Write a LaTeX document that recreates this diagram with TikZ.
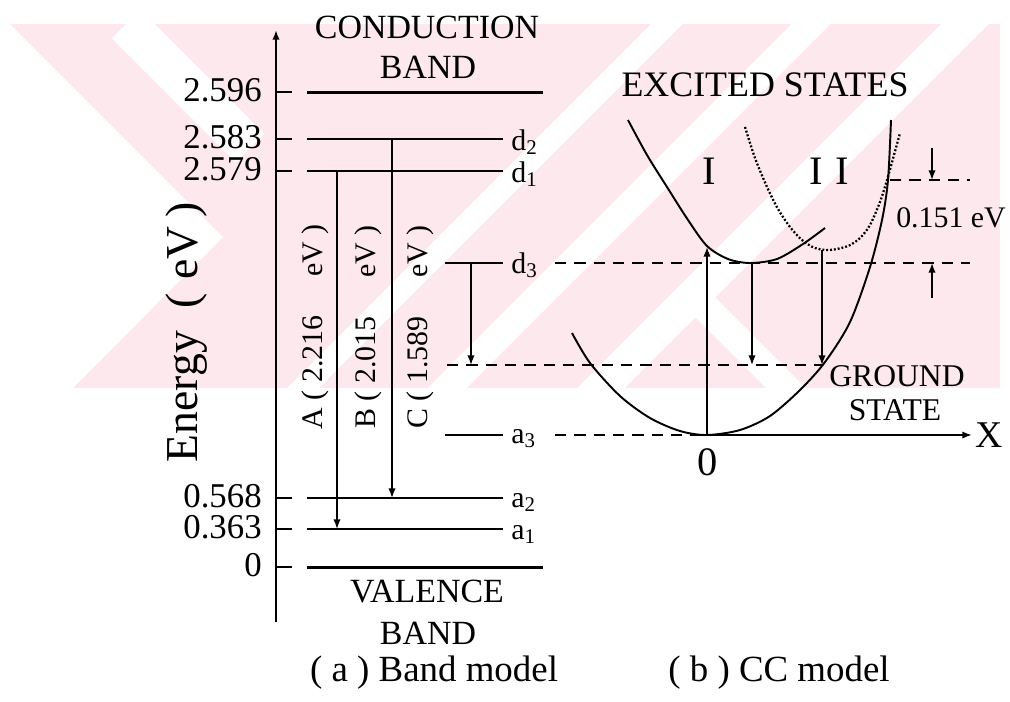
\documentclass[tikz,border=0pt]{standalone}
\usepackage{fontspec}
\setmainfont{Liberation Serif}
\usetikzlibrary{arrows.meta,positioning,calc}
\definecolor{wmpink}{RGB}{253,232,237}

\begin{document}
\begin{tikzpicture}[
    x=0.02cm, y=-0.02cm,
    >={Latex[length=5.5pt,width=4.2pt]},
    % --- line styles ---
    lvl/.style={line width=1.1pt},
    bandline/.style={line width=1.7pt},
    dashlvl/.style={line width=1.2pt, dash pattern=on 6.5pt off 4.5pt},
    curve/.style={line width=1.1pt},
    dotcurve/.style={line width=1.3pt, dash pattern=on 1.1pt off 1.1pt},
    tr/.style={->, line width=0.9pt},
    % --- text styles ---
    ticklbl/.style={font=\fontsize{19.8}{22}\selectfont, inner sep=0pt, anchor=east},
    bandlbl/.style={font=\fontsize{19.3}{22}\selectfont, inner sep=0pt},
    statelbl/.style={font=\fontsize{17}{20}\selectfont, inner sep=0pt, anchor=base west},
    translbl/.style={font=\fontsize{17}{20}\selectfont, inner sep=0pt, rotate=90, anchor=base},
    cclbl/.style={font=\fontsize{20.4}{24}\selectfont, inner sep=0pt},
    caption/.style={font=\fontsize{21}{24}\selectfont, inner sep=0pt},
]
\useasboundingbox (0,0) rectangle (1010,701);

% =============================================
%  Watermark
% =============================================
\begin{scope}
    \clip (10,24) rectangle (1000,388);
    \fill[wmpink] (10,24) rectangle (1000,388);
    \fill[white] (10,24) -- (223,237) -- (73,388) -- (10,388) -- cycle;
    \draw[white, line width=23pt] (126,24) -- (250,148);
    \foreach \t/\w in {667/12.8, 811/15.7, 965/19}
        \draw[white, line width=\w pt] (\t+40,-16) -- (\t-420,444);
    \draw[white, line width=16pt] (690,292) -- (800,402);
\end{scope}

% =============================================
%  (a) Band model
% =============================================
\coordinate (axbot) at (276,622);
\coordinate (axtop) at (276,30);
\draw[lvl, ->] (axbot) -- (axtop);

\foreach \nm/\y/\xe/\v/\st in {cb/92/543/2.596/bandline, d2/139/503/2.583/lvl,
        d1/171/503/2.579/lvl, a2/498/503/0.568/lvl, a1/529/503/0.363/lvl,
        vb/567/543/0/bandline}{
    \coordinate (\nm) at (307,\y);
    \coordinate (\nm e) at (\xe,\y);
    \coordinate (tk\nm) at (276,\y);
    \draw[lvl] (tk\nm) -- ++(16,0);
    \draw[\st] (\nm) -- (\nm e);
    \node[ticklbl] (lbl\nm) at (262,\y-2) {\v};
}

% short levels d3 / a3
\coordinate (d3) at (445,263);  \coordinate (d3e) at (503,263);
\coordinate (a3) at (445,435);  \coordinate (a3e) at (503,435);
\draw[lvl] (d3) -- (d3e);
\draw[lvl] (a3) -- (a3e);

\node[statelbl] (ld2) at (511,150) {d\textsubscript{2}};
\node[statelbl] (ld1) at (511,182) {d\textsubscript{1}};
\node[statelbl] (ld3) at (511,273) {d\textsubscript{3}};
\node[statelbl] (la2) at (511,507) {a\textsubscript{2}};
\node[statelbl] (la1) at (511,539) {a\textsubscript{1}};
\node[statelbl] (la3) at (511,443) {a\textsubscript{3}};

\node[bandlbl] (cond) at (427,27) {CONDUCTION};
\node[bandlbl] (condb) at (428,67) {BAND};
\node[bandlbl] (val) at (427,592) {VALENCE};
\node[bandlbl] (valb) at (428,633) {BAND};

\node[font=\fontsize{26}{28}\selectfont, inner sep=0pt, rotate=90, anchor=base] (elbl)
    at (197,332) {Energy\hspace{0.5em}(\hspace{0.3em}eV\hspace{0.2em})};

% transitions
\coordinate (g1) at (447,365);
\coordinate (xA) at (337,0);
\coordinate (xB) at (392,0);
\coordinate (xC) at (471,0);
\draw[tr] (xA |- d1) -- (xA |- a1);
\draw[tr] (xB |- d2) -- (xB |- a2);
\draw[tr] (xC |- d3) -- (xC |- g1);

\node[translbl] (tA) at (322,327) {A ( 2.216\hspace{1.3em}eV )};
\node[translbl] (tB) at (375,327) {B ( 2.015\hspace{1.3em}eV )};
\node[translbl] (tC) at (427,327) {C ( 1.589\hspace{1.3em}eV )};

% =============================================
%  (b) CC model
% =============================================
\coordinate (O) at (707,435);
\coordinate (Xtip) at (972,435);
\coordinate (g1e) at (823,365);
\coordinate (d3d) at (555,263);  \coordinate (d3de) at (970,263);
\coordinate (a3d) at (555,435);

\draw[dashlvl] (g1) -- (g1e);
\draw[dashlvl] (d3d) -- (d3de);
\draw[dashlvl] (a3d) -- (O);
\draw[lvl, ->] (O) -- (Xtip);

% ground state
\draw[curve] plot[smooth] coordinates {(572,333) (590,363) (620,396) (650,418)
    (680,431) (707,435) (740,430) (770,416) (800,390) (825,362) (850,322)
    (870,267) (882,220) (888,180) (891,120)};
% excited state I
\draw[curve] plot[smooth] coordinates {(628,120) (647,155) (667,187) (688,220)
    (707,246) (728,259) (750,263) (777,259) (803,244) (825,228)};
% excited state II
\draw[dotcurve] plot[smooth] coordinates {(745,127) (755,158) (767,187) (778,209)
    (790,227) (802,240) (815,248) (830,250) (848,246) (860,238) (870,225)
    (880,202) (887,180) (894,155) (900,133)};

\coordinate (Iup) at (707,247);
\coordinate (Imin) at (752,263);
\coordinate (IImin) at (822,250);
\draw[tr] (O) -- (Iup);
\draw[tr] (Imin) -- (Imin |- g1);
\draw[tr] (IImin) -- (IImin |- g1);

% 0.151 eV gap
\coordinate (s1) at (890,180);  \coordinate (s1e) at (970,180);
\draw[dashlvl] (s1) -- (s1e);
\coordinate (m1) at (932,148);  \coordinate (m2) at (932,298);
\draw[tr] (m1) -- (m1 |- s1);
\draw[tr] (m2) -- (m2 |- d3de);
\node[font=\fontsize{17}{20}\selectfont, inner sep=0pt] (gap) at (951,218) {0.151 eV};

\node[cclbl] (exc) at (765,85) {EXCITED STATES};
\node[font=\fontsize{23}{26}\selectfont, inner sep=0pt] (lI) at (709,171) {I};
\node[font=\fontsize{23}{26}\selectfont, inner sep=0pt] (lII) at (829,171) {I\hspace{0.3em}I};
\node[font=\fontsize{18}{21}\selectfont, inner sep=0pt] (gnd) at (897,376) {GROUND};
\node[font=\fontsize{18}{21}\selectfont, inner sep=0pt] (gst) at (895,410) {STATE};
\node[font=\fontsize{21.5}{24}\selectfont, inner sep=0pt] (xl) at (989,435) {X};
\node[font=\fontsize{23}{26}\selectfont, inner sep=0pt] (zero) at (708,462) {0};

% captions
\node[caption] (capa) at (434,673) {( a ) Band model};
\node[caption] (capb) at (779,673) {( b ) CC model};

\end{tikzpicture}
\end{document}
